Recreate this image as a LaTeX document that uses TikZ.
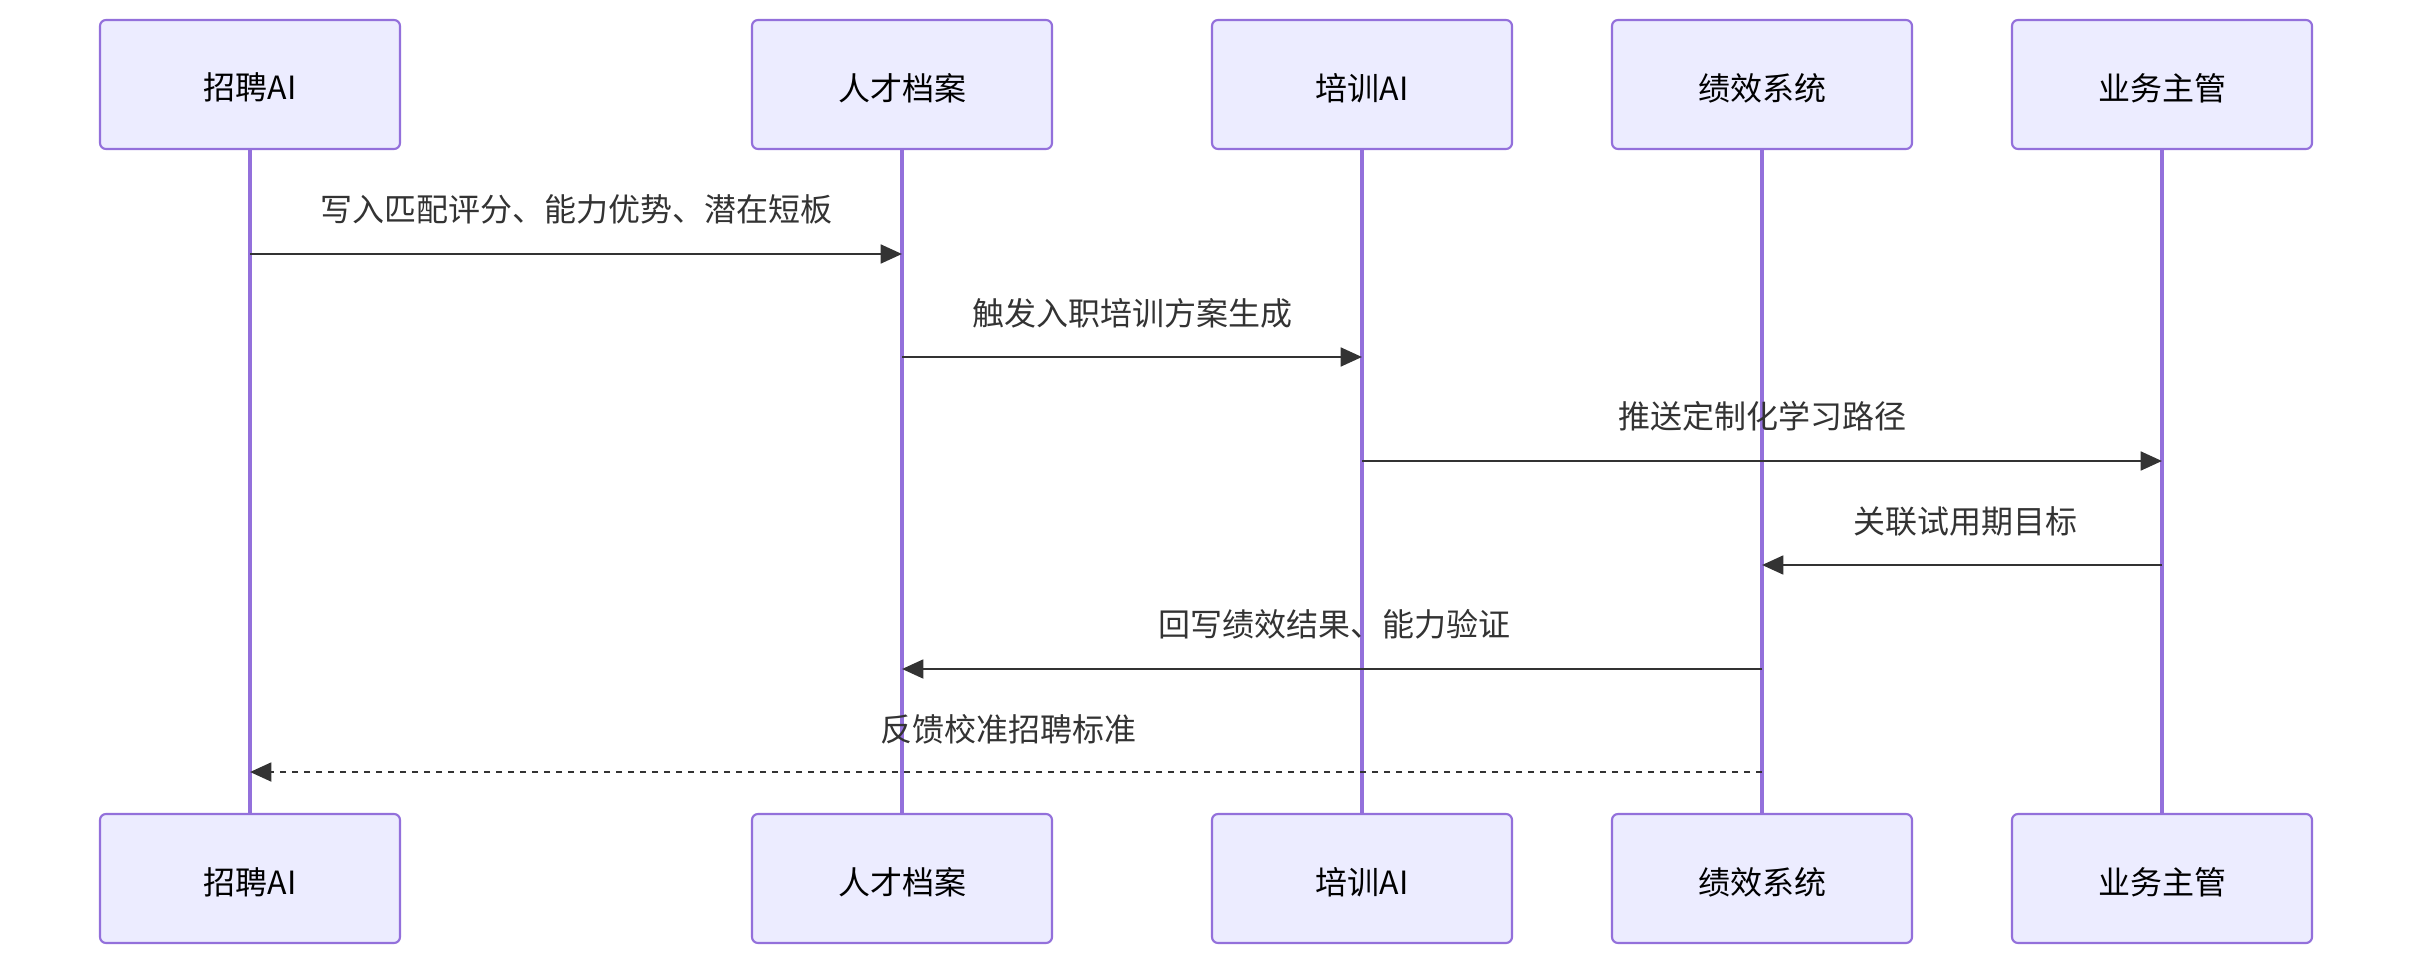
\documentclass[tikz,border=0pt]{standalone}
\usepackage{fontspec}
\setmainfont{Noto Sans CJK SC}
\usetikzlibrary{arrows.meta}
\definecolor{actfill}{HTML}{ECECFF}
\definecolor{actline}{HTML}{9370DB}
\definecolor{msgcol}{HTML}{333333}
\newcommand{\acttxt}[1]{\raisebox{-2.5pt}[\height][\depth]{#1}}
\begin{document}
\begin{tikzpicture}[x=0.75pt,y=-0.75pt,
  actor/.style={draw=actline,fill=actfill,line width=1.6pt,rounded corners=4.5pt,
    minimum width=225pt,minimum height=96.75pt,inner sep=0pt,font=\fontsize{24}{28}\selectfont,text=black},
  life/.style={draw=actline,line width=3pt},
  msg/.style={draw=msgcol,line width=2.2pt,-{Triangle[length=16pt,width=14pt]},color=msgcol},
  dmsg/.style={msg,dash pattern=on 4.5pt off 4.5pt},
  lbl/.style={font=\fontsize{24}{28}\selectfont,text=msgcol,inner sep=0pt}]
\useasboundingbox (0,0) rectangle (2412,966);
% top actors
\node[actor] (a1) at (250,84.5) {\acttxt{招聘AI}};
\node[actor] (a2) at (902,84.5) {\acttxt{人才档案}};
\node[actor] (a3) at (1362,84.5) {\acttxt{培训AI}};
\node[actor] (a4) at (1762,84.5) {\acttxt{绩效系统}};
\node[actor] (a5) at (2162,84.5) {\acttxt{业务主管}};
% bottom actors
\node[actor] (b1) at (250,878.5) {\acttxt{招聘AI}};
\node[actor] (b2) at (902,878.5) {\acttxt{人才档案}};
\node[actor] (b3) at (1362,878.5) {\acttxt{培训AI}};
\node[actor] (b4) at (1762,878.5) {\acttxt{绩效系统}};
\node[actor] (b5) at (2162,878.5) {\acttxt{业务主管}};
% lifelines
\foreach \i in {1,...,5} {\draw[life] (a\i.south) -- (b\i.north);}
% messages
\draw[msg] (a1.center |- 0,254) -- (a2.center |- 0,254);
\node[lbl] (t1) at (576,209.5) {写入匹配评分、能力优势、潜在短板};
\draw[msg] (a2.center |- 0,357) -- (a3.center |- 0,357);
\node[lbl] (t2) at (1132,313.5) {触发入职培训方案生成};
\draw[msg] (a3.center |- 0,461) -- (a5.center |- 0,461);
\node[lbl] (t3) at (1762,416.5) {推送定制化学习路径};
\draw[msg] (a5.center |- 0,565) -- (a4.center |- 0,565);
\node[lbl] (t4) at (1965,521.5) {关联试用期目标};
\draw[msg] (a4.center |- 0,669) -- (a2.center |- 0,669);
\node[lbl] (t5) at (1334,624.5) {回写绩效结果、能力验证};
\draw[dmsg] (a4.center |- 0,772) -- (a1.center |- 0,772);
\node[lbl] (t6) at (1008,729.5) {反馈校准招聘标准};
\end{tikzpicture}
\end{document}
